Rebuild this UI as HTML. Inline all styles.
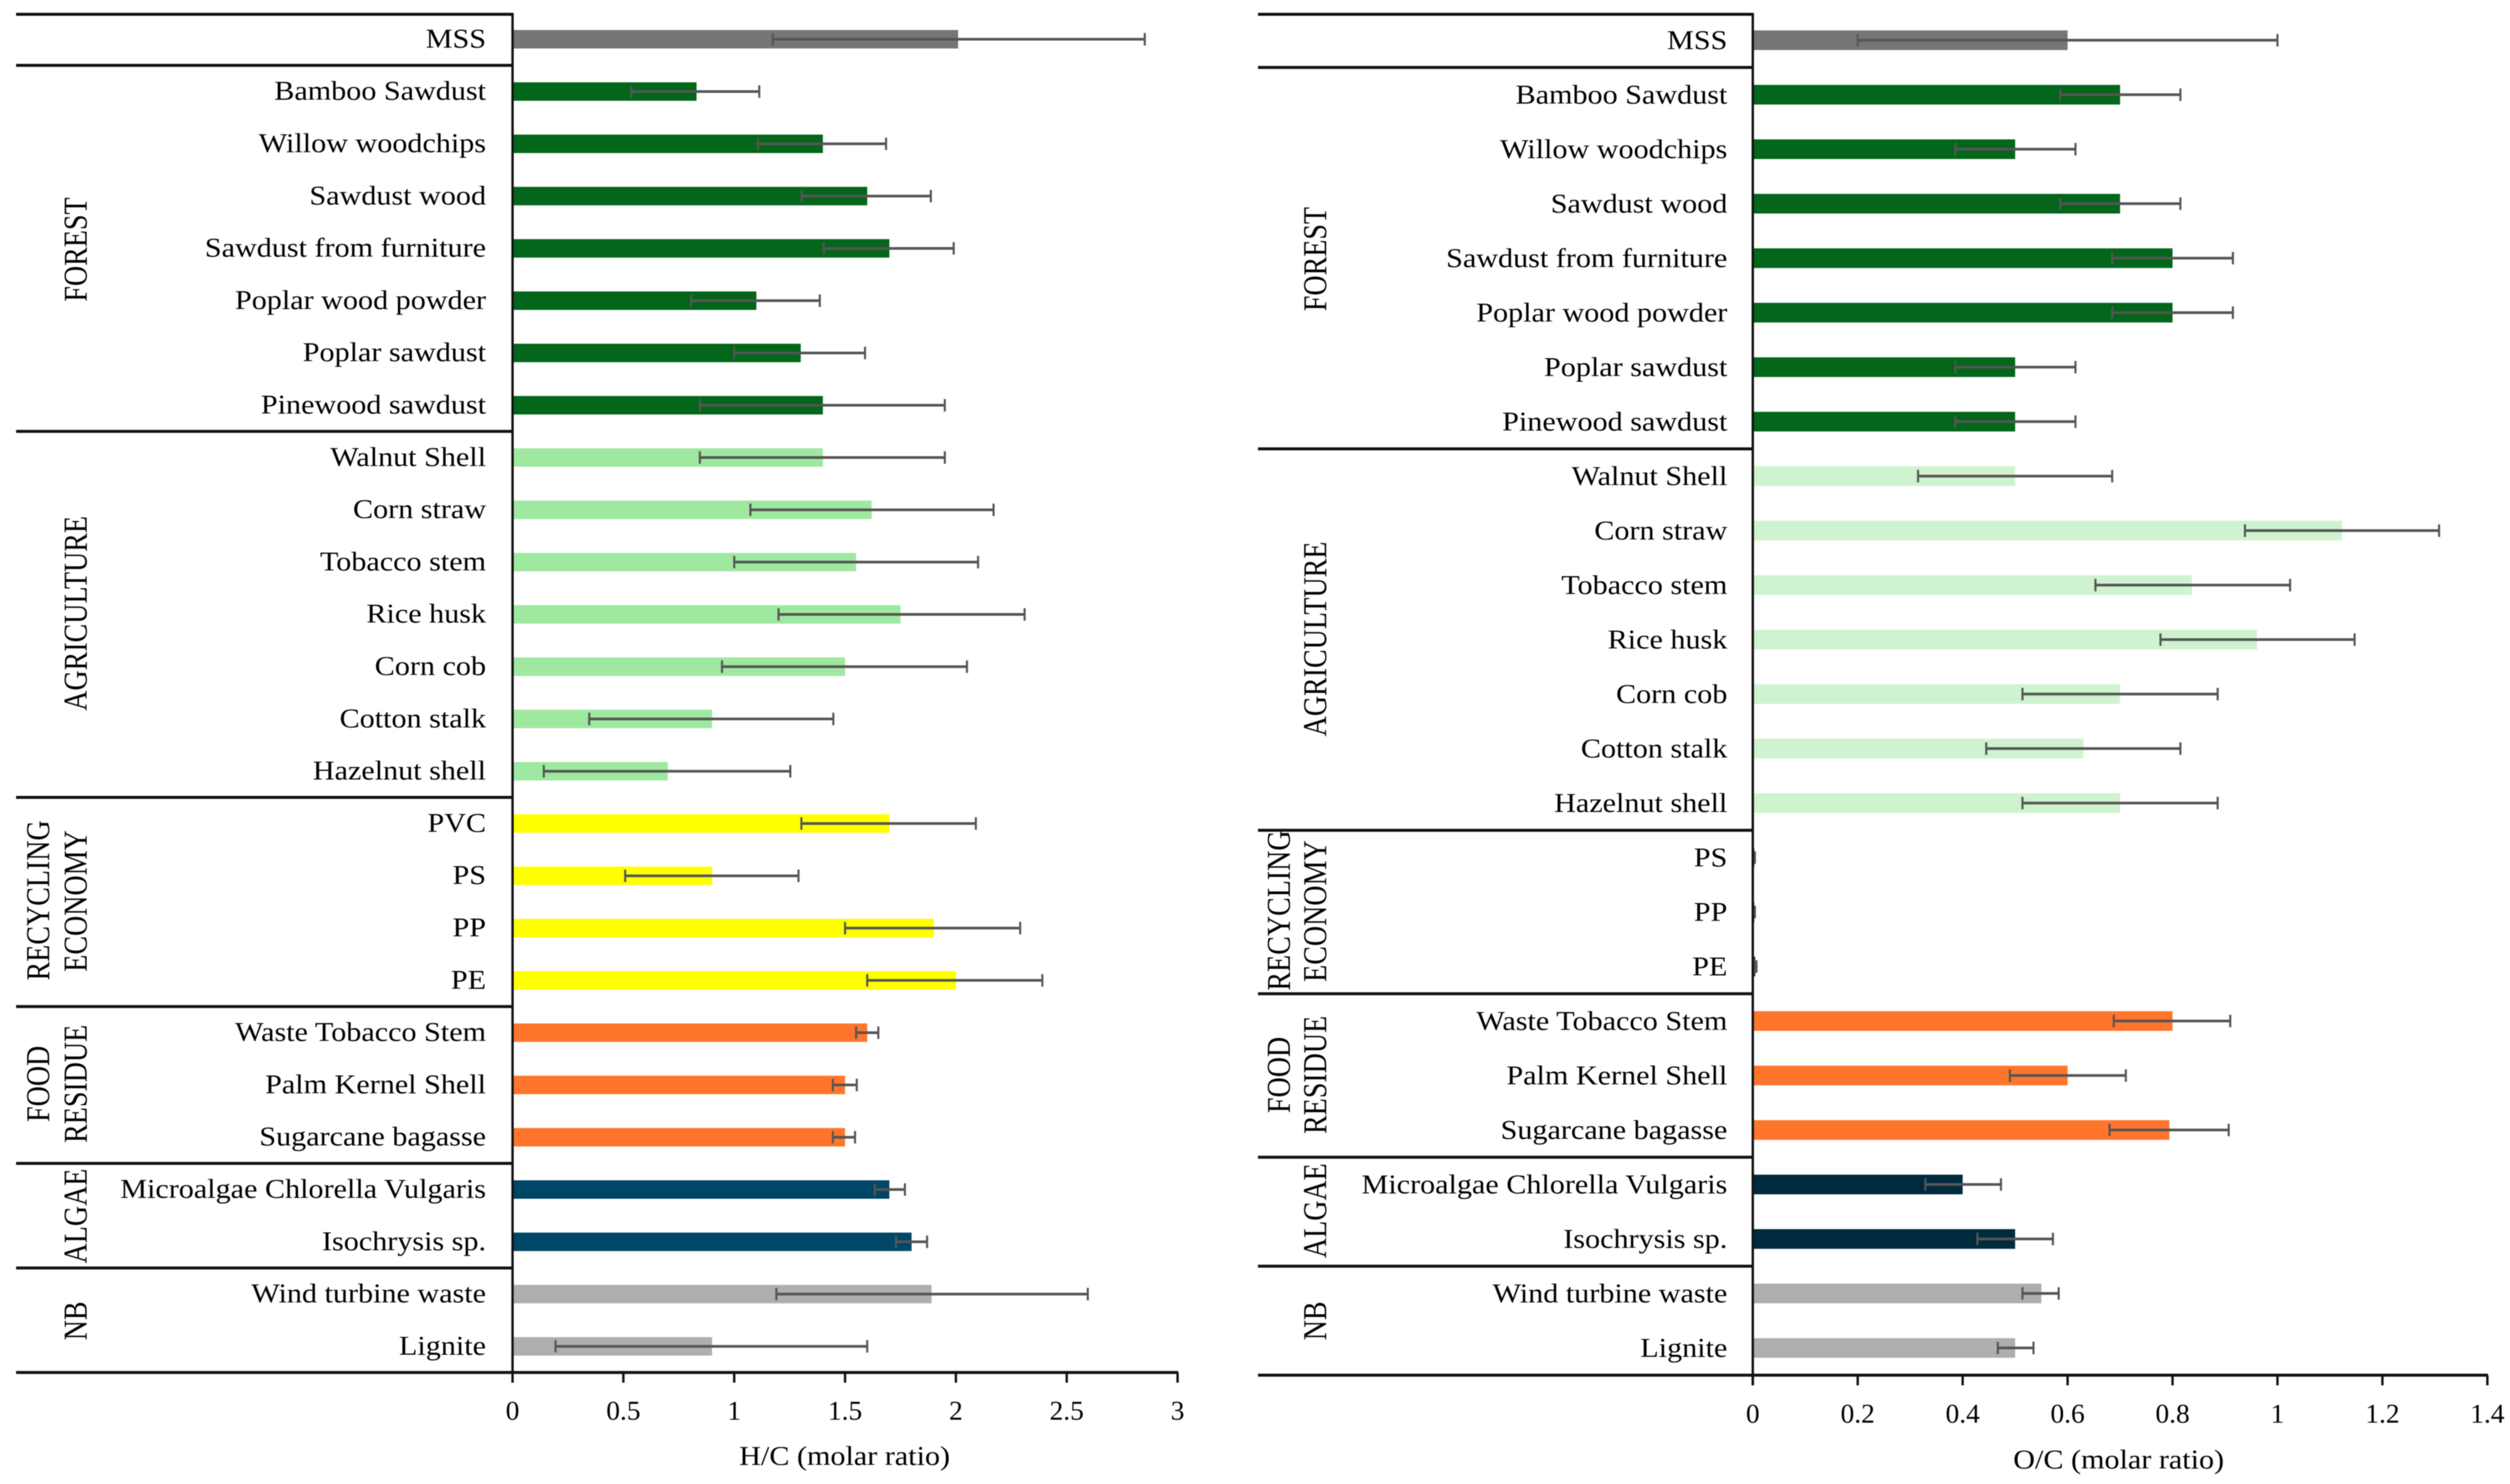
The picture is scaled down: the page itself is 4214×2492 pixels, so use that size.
<!DOCTYPE html>
<html lang="en">
<head>
<meta charset="utf-8">
<title>H/C and O/C molar ratio by feedstock</title>
<style>
html,body{margin:0;padding:0;background:#fff;width:4214px;height:2492px;overflow:hidden}
svg{display:block;filter:blur(0.7px)}
text{font-family:"Liberation Serif",serif;fill:#000}
</style>
</head>
<body>
<svg id="chart" xmlns="http://www.w3.org/2000/svg" width="4214" height="2492" viewBox="0 0 4214 2492"></svg>
<script>
// ---------- H/C panel data ----------
const hcCategories = ["MSS","Bamboo Sawdust","Willow woodchips","Sawdust wood","Sawdust from furniture","Poplar wood powder","Poplar sawdust","Pinewood sawdust","Walnut Shell","Corn straw","Tobacco stem","Rice husk","Corn cob","Cotton stalk","Hazelnut shell","PVC","PS","PP","PE","Waste Tobacco Stem","Palm Kernel Shell","Sugarcane bagasse","Microalgae Chlorella Vulgaris","Isochrysis sp.","Wind turbine waste","Lignite"];
const hcGroupOfRow = ["mss","forest","forest","forest","forest","forest","forest","forest","agri","agri","agri","agri","agri","agri","agri","rec","rec","rec","rec","food","food","food","algae","algae","nb","nb"];
const hcValues = [2.01,0.83,1.4,1.6,1.7,1.1,1.3,1.4,1.4,1.62,1.55,1.75,1.5,0.9,0.7,1.7,0.9,1.9,2.0,1.6,1.5,1.5,1.7,1.8,1.89,0.9];
const hcErrLow = [1.174,0.536,1.106,1.304,1.404,0.806,1.0,0.845,0.845,1.073,1.0,1.2,0.945,0.346,0.141,1.303,0.508,1.5,1.6,1.55,1.445,1.445,1.634,1.73,1.19,0.194];
const hcErrHigh = [2.852,1.113,1.685,1.887,1.99,1.386,1.59,1.95,1.95,2.17,2.1,2.31,2.05,1.447,1.253,2.09,1.29,2.29,2.39,1.65,1.553,1.545,1.77,1.87,2.595,1.6];
const hcTicks = [0,0.5,1,1.5,2,2.5,3];
const hcTitle = "H/C (molar ratio)";

// ---------- O/C panel data ----------
const ocCategories = ["MSS","Bamboo Sawdust","Willow woodchips","Sawdust wood","Sawdust from furniture","Poplar wood powder","Poplar sawdust","Pinewood sawdust","Walnut Shell","Corn straw","Tobacco stem","Rice husk","Corn cob","Cotton stalk","Hazelnut shell","PS","PP","PE","Waste Tobacco Stem","Palm Kernel Shell","Sugarcane bagasse","Microalgae Chlorella Vulgaris","Isochrysis sp.","Wind turbine waste","Lignite"];
const ocGroupOfRow = ["mss","forest","forest","forest","forest","forest","forest","forest","agri","agri","agri","agri","agri","agri","agri","rec","rec","rec","food","food","food","algae","algae","nb","nb"];
const ocValues = [0.6,0.7,0.5,0.7,0.8,0.8,0.5,0.5,0.5,1.123,0.837,0.961,0.7,0.63,0.7,0.003,0.003,0.005,0.8,0.6,0.794,0.4,0.5,0.55,0.5];
const ocErrLow = [0.2,0.586,0.386,0.586,0.685,0.685,0.386,0.386,0.315,0.938,0.653,0.777,0.514,0.445,0.514,0.002,0.002,0.003,0.688,0.49,0.68,0.329,0.428,0.514,0.467];
const ocErrHigh = [1.0,0.815,0.615,0.815,0.915,0.915,0.615,0.615,0.685,1.308,1.024,1.147,0.886,0.815,0.886,0.004,0.004,0.007,0.91,0.711,0.907,0.473,0.572,0.583,0.535];
const ocTicks = [0,0.2,0.4,0.6,0.8,1,1.2,1.4];
const ocTitle = "O/C (molar ratio)";

// ---------- Layout and style (not data) ----------
const hcLayout = {key:"hc",left:27,axisX:860.5,axisMax:3,axisEnd:1977,top:22,band:87.8,barH:31,labelX:816,base:14,
  tickBase:2384,titleX:1418,titleBase:2460,
  colors:{mss:"#767676",forest:"#03661a",agri:"#9fe8a0",rec:"#ffff00",food:"#ff752b",algae:"#004666",nb:"#aeaeae"},
  groupLabels:[["FOREST",127,419],["AGRICULTURE",127,1030],["RECYCLING",64,1512],["ECONOMY",127,1513],["FOOD",64,1820],["RESIDUE",127,1820],["ALGAE",127,2042],["NB",127,2218]]};
const ocLayout = {key:"oc",left:2112,axisX:2942.7,axisMax:1.4,axisEnd:4176,top:21.8,band:91.5,barH:33,labelX:2900,base:15,
  tickBase:2389,titleX:3557,titleBase:2466,
  colors:{mss:"#767676",forest:"#03661a",agri:"#cff3cf",rec:"#03661a",food:"#ff752b",algae:"#002b3f",nb:"#aeaeae"},
  groupLabels:[["FOREST",2208,435],["AGRICULTURE",2208,1073],["RECYCLING",2147,1529],["ECONOMY",2208,1530],["FOOD",2147,1805],["RESIDUE",2208,1805],["ALGAE",2208,2033],["NB",2208,2218]]};

const NS = "http://www.w3.org/2000/svg";
const root = document.getElementById("chart");
const TEXT_STRETCH = 1.1;
const TOP_LINE_Y = 24;

function make(tag, parent, attrs, text) {
  const el = document.createElementNS(NS, tag);
  for (const k in attrs) el.setAttribute(k, attrs[k]);
  if (text !== undefined) el.textContent = text;
  parent.appendChild(el);
  return el;
}
function slug(s) {
  return s.toLowerCase().replace(/[^a-z0-9]+/g, "-").replace(/^-|-$/g, "");
}

function drawPanel(cfg, categories, groupOfRow, values, errLow, errHigh, ticks, title) {
  const x = v => cfg.axisX + (cfg.axisEnd - cfg.axisX) * v / cfg.axisMax;
  const yc = i => cfg.top + cfg.band * (i + 0.5);
  const yEdge = i => cfg.top + cfg.band * i;

  const panel = make("g", root, {});
  
  

  // bars
  categories.forEach((name, i) => {
    const bar = make("rect", panel, {x: x(0), y: yc(i) - cfg.barH / 2, width: Math.max(0, x(values[i]) - x(0)), height: cfg.barH, fill: cfg.colors[groupOfRow[i]]});
    
    
  });

  // error bars
  categories.forEach((name, i) => {
    const g = make("g", panel, {stroke: "#555", fill: "none"});
    
    
    make("line", g, {x1: x(errLow[i]), x2: x(errHigh[i]), y1: yc(i), y2: yc(i), "stroke-width": 4.5});
    make("line", g, {x1: x(errLow[i]), x2: x(errLow[i]), y1: yc(i) - 10.5, y2: yc(i) + 10.5, "stroke-width": 3.5});
    make("line", g, {x1: x(errHigh[i]), x2: x(errHigh[i]), y1: yc(i) - 10.5, y2: yc(i) + 10.5, "stroke-width": 3.5});
  });

  // category labels
  categories.forEach((name, i) => {
    const t = make("text", panel, {transform: "translate(" + cfg.labelX + " " + (yc(i) + cfg.base) + ") scale(" + TEXT_STRETCH + " 1)", "text-anchor": "end", "font-size": 46}, name);
    
    
  });

  // horizontal separators at group changes
  const seps = [0];
  for (let i = 1; i < groupOfRow.length; i++) if (groupOfRow[i] !== groupOfRow[i - 1]) seps.push(i);
  seps.push(groupOfRow.length);
  seps.forEach(i => {
    const yLine = i === 0 ? TOP_LINE_Y : yEdge(i);
    const ln = make("line", panel, {x1: cfg.left, x2: i === groupOfRow.length ? cfg.axisEnd + 1 : cfg.axisX + 1, y1: yLine, y2: yLine, stroke: "#111", "stroke-width": 5});
    
    
  });

  // vertical category axis
  const axisLine = make("line", panel, {x1: cfg.axisX, x2: cfg.axisX, y1: TOP_LINE_Y - 2, y2: yEdge(groupOfRow.length) + 17, stroke: "#111", "stroke-width": 4});
  
  

  // ticks and tick labels
  ticks.forEach(v => {
    const yb = yEdge(groupOfRow.length);
    const tick = make("line", panel, {x1: x(v), x2: x(v), y1: yb, y2: yb + 17, stroke: "#111", "stroke-width": 4});
    
    
    const lab = make("text", panel, {x: x(v), y: cfg.tickBase, "text-anchor": "middle", "font-size": 46}, String(v));
    
    
  });

  // axis title
  const ttl = make("text", panel, {transform: "translate(" + cfg.titleX + " " + cfg.titleBase + ") scale(" + TEXT_STRETCH + " 1)", "text-anchor": "middle", "font-size": 46}, title);
  
  

  // rotated group labels
  cfg.groupLabels.forEach(g => {
    const t = make("text", panel, {transform: "translate(" + (g[1] + 18.5) + " " + g[2] + ") rotate(-90) scale(1 1.19)", "text-anchor": "middle", "font-size": 47}, g[0]);
    
    
  });
}

drawPanel(hcLayout, hcCategories, hcGroupOfRow, hcValues, hcErrLow, hcErrHigh, hcTicks, hcTitle);
drawPanel(ocLayout, ocCategories, ocGroupOfRow, ocValues, ocErrLow, ocErrHigh, ocTicks, ocTitle);
</script>
</body>
</html>
